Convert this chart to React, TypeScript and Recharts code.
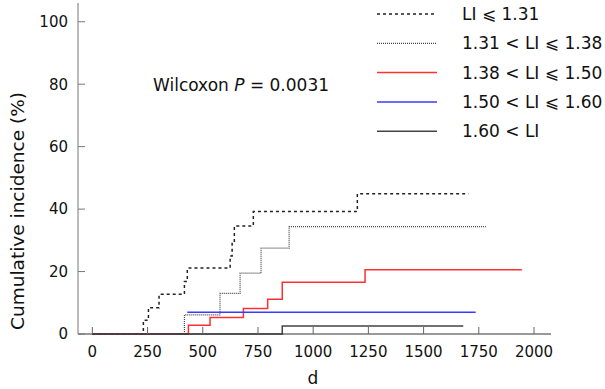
import { Line, LineChart, XAxis, YAxis } from 'recharts';

// eje X: días, eje Y: incidencia acumulada (%)
const xTicks = [0, 250, 500, 750, 1000, 1250, 1500, 1750, 2000];
const yTicks = [0, 20, 40, 60, 80, 100];

const groupLabels = ['LI ⩽ 1.31', '1.31 < LI ⩽ 1.38', '1.38 < LI ⩽ 1.50', '1.50 < LI ⩽ 1.60', '1.60 < LI'];

const daysG1 = [0, 231, 254, 302, 417, 430, 624, 633, 643, 729, 1200, 1703];
const incG1 = [0, 4.4, 8.4, 12.7, 16.8, 21.1, 25.0, 29.4, 34.6, 39.2, 44.9, 44.9];

const daysG2 = [0, 417, 578, 669, 764, 891, 1782];
const incG2 = [0, 6.1, 13.0, 19.5, 27.5, 34.4, 34.4];

const daysG3 = [0, 435, 533, 684, 794, 860, 1235, 1945];
const incG3 = [0, 2.8, 5.3, 8.2, 11.1, 16.6, 20.6, 20.6];

const daysG4 = [430, 1736];
const incG4 = [7.0, 7.0];

const daysG5 = [0, 860, 1680];
const incG5 = [0, 2.6, 2.6];

const toPoints = (days: number[], inc: number[]) => days.map((d, i) => ({ d, v: inc[i] }));

const series = [
  { name: groupLabels[0], data: toPoints(daysG1, incG1), color: '#222', dash: '3 3', width: 1.5 },
  { name: groupLabels[1], data: toPoints(daysG2, incG2), color: '#444', dash: '1 1', width: 1.2 },
  { name: groupLabels[2], data: toPoints(daysG3, incG3), color: '#ff3030', dash: undefined, width: 1.5 },
  { name: groupLabels[3], data: toPoints(daysG4, incG4), color: '#3a3aff', dash: undefined, width: 1.5 },
  { name: groupLabels[4], data: toPoints(daysG5, incG5), color: '#444', dash: undefined, width: 1.5 },
];

const FONT = "'DejaVu Sans', sans-serif";
const TICK_FS = 15;
const TEXT_FS = 17;

function LegendBox() {
  return (
    <svg width={235} height={150} style={{ position: 'absolute', left: 370, top: 0 }}>
      {series.map((s, i) => {
        const cy = 14 + i * 29.3;
        return (
          <g key={s.name}>
            <line x1={7} x2={67} y1={cy} y2={cy} stroke={s.color} strokeWidth={s.width} strokeDasharray={s.dash} />
            <text x={92} y={cy} dominantBaseline="central" fontSize={TEXT_FS} fill="#111">
              {s.name}
            </text>
          </g>
        );
      })}
    </svg>
  );
}

export default function App() {
  return (
    <div style={{ position: 'absolute', left: 0, top: 0, width: 605, height: 389, fontFamily: FONT, background: '#fff' }}>
      <LineChart width={605} height={389} margin={{ top: 3, right: 54, left: 18, bottom: 15 }}>
        <XAxis
          dataKey="d"
          type="number"
          domain={[-65, 2077]}
          ticks={xTicks}
          tickSize={-7}
          tickMargin={19}
          height={40}
          stroke="#333"
          tick={{ fill: '#111', fontSize: TICK_FS }}
          tickLine={{ stroke: '#666' }}
          label={() => (
            <text x={313} y={378} textAnchor="middle" dominantBaseline="central" fontSize={TEXT_FS} fill="#111">
              d
            </text>
          )}
        />
        <YAxis
          type="number"
          domain={[0, 106]}
          ticks={yTicks}
          tickSize={-7}
          tickMargin={17}
          width={60}
          stroke="#777"
          tick={{ fill: '#111', fontSize: TICK_FS }}
          tickLine={{ stroke: '#777' }}
          label={() => (
            <text
              x={17}
              y={211}
              transform="rotate(-90 17 211)"
              textAnchor="middle"
              dominantBaseline="central"
              fontSize={18.5}
              fill="#111"
            >
              Cumulative incidence (%)
            </text>
          )}
        />
        {series.map((s) => (
          <Line
            key={s.name}
            data={s.data}
            dataKey="v"
            name={s.name}
            type="stepAfter"
            stroke={s.color}
            strokeWidth={s.width}
            strokeDasharray={s.dash}
            dot={false}
            activeDot={false}
            isAnimationActive={false}
          />
        ))}
      </LineChart>
      <LegendBox />
      <div style={{ position: 'absolute', left: 153, top: 74, fontSize: TEXT_FS, lineHeight: '22px', color: '#111', whiteSpace: 'nowrap' }}>
        Wilcoxon <i>P</i> = 0.0031
      </div>
    </div>
  );
}
